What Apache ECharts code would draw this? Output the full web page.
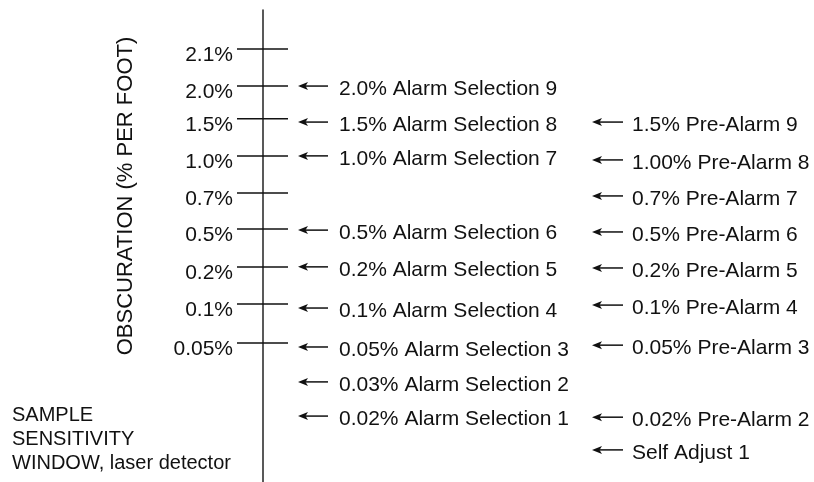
<!DOCTYPE html>
<html>
<head>
<meta charset="utf-8">
<script src="https://cdn.jsdelivr.net/npm/echarts@6/dist/echarts.min.js"></script>
<style>html,body{margin:0;padding:0;background:#fff}#c{width:814px;height:482px}</style>
</head>
<body>
<div id="c"></div>
<script>
// ---- data (row positions along the obscuration scale) ----
const scaleLabels = ['2.1%', '2.0%', '1.5%', '1.0%', '0.7%', '0.5%', '0.2%', '0.1%', '0.05%'];
const scaleRows   = [0, 1.01, 1.90, 2.91, 3.92, 4.90, 5.93, 6.94, 8.00];

const alarmLabels = ['2.0% Alarm Selection 9', '1.5% Alarm Selection 8', '1.0% Alarm Selection 7',
  '0.5% Alarm Selection 6', '0.2% Alarm Selection 5', '0.1% Alarm Selection 4',
  '0.05% Alarm Selection 3', '0.03% Alarm Selection 2', '0.02% Alarm Selection 1'];
const alarmRows = [1.09, 2.07, 2.99, 5.01, 6.01, 7.13, 8.19, 9.14, 10.07];

const preAlarmLabels = ['1.5% Pre-Alarm 9', '1.00% Pre-Alarm 8', '0.7% Pre-Alarm 7', '0.5% Pre-Alarm 6',
  '0.2% Pre-Alarm 5', '0.1% Pre-Alarm 4', '0.05% Pre-Alarm 3', '0.02% Pre-Alarm 2', 'Self Adjust 1'];
const preAlarmRows = [2.07, 3.10, 4.08, 5.06, 6.04, 7.05, 8.14, 10.10, 10.99];

const axisTitle = 'OBSCURATION (% PER FOOT)';
const captionLines = ['SAMPLE', 'SENSITIVITY', 'WINDOW, laser detector'];

// ---- styles / layout ----
const FONT = '"Liberation Sans", Arial, Helvetica, sans-serif';
const FS = 21;
const INK = '#111';

const chart = echarts.init(document.getElementById('c'), null, {renderer: 'canvas'});

function tickRender(params, api) {
  const a = api.coord([-26, api.value(1)]);
  const b = api.coord([25, api.value(1)]);
  const t = api.coord([-30, api.value(1)]);
  return {
    type: 'group',
    children: [
      {type: 'line', shape: {x1: a[0], y1: a[1], x2: b[0], y2: b[1]}, style: {stroke: INK, lineWidth: 1.5}},
      {type: 'text', x: t[0], y: t[1] + 6, style: {text: scaleLabels[params.dataIndex], fill: INK,
        fontSize: FS, fontFamily: FONT, align: 'right', verticalAlign: 'middle'}}
    ]
  };
}

function arrowRender(labels, headX, tailX, textX) {
  return function (params, api) {
    const r = api.value(1);
    const h = api.coord([headX, r]);
    const t = api.coord([tailX, r]);
    const x = api.coord([textX, r]);
    const ay = h[1] - 3;
    return {
      type: 'group',
      children: [
        {type: 'line', shape: {x1: h[0] + 6, y1: ay, x2: t[0], y2: ay}, style: {stroke: INK, lineWidth: 1.5}},
        {type: 'polygon', shape: {points: [[h[0], ay], [h[0] + 10, ay - 4], [h[0] + 7.5, ay], [h[0] + 10, ay + 4]]},
          style: {fill: INK}},
        {type: 'text', x: x[0], y: x[1], style: {text: labels[params.dataIndex], fill: INK,
          fontSize: FS, fontFamily: FONT, align: 'left', verticalAlign: 'middle'}}
      ]
    };
  };
}

const option = {
  animation: false,
  backgroundColor: '#fff',
  title: {
    text: captionLines.join('\n'),
    left: 12, top: 404, padding: 0,
    textStyle: {fontSize: 20, fontWeight: 'normal', fontFamily: FONT, color: INK, lineHeight: 23.7}
  },
  grid: {left: 263, right: 0, top: 10, bottom: 0, containLabel: false},
  xAxis: {type: 'value', min: 0, max: 551, show: false},
  yAxis: {
    type: 'value', inverse: true, min: -1.061, max: 11.782,
    name: axisTitle, nameLocation: 'middle', nameRotate: 90, nameGap: 126,
    nameTextStyle: {fontSize: 22, fontFamily: FONT, color: INK, padding: [0, 0, 0, 100]},
    axisLine: {show: true, onZero: false, lineStyle: {color: '#222', width: 1.5}},
    axisTick: {show: false}, axisLabel: {show: false}, splitLine: {show: false}
  },
  series: [
    {type: 'custom', renderItem: tickRender, clip: false, silent: true,
      encode: {x: 0, y: 1}, data: scaleRows.map(r => [0, r])},
    {type: 'custom', renderItem: arrowRender(alarmLabels, 35, 65, 76), clip: false, silent: true,
      encode: {x: 0, y: 1}, data: alarmRows.map(r => [0, r])},
    {type: 'custom', renderItem: arrowRender(preAlarmLabels, 329, 360, 369), clip: false, silent: true,
      encode: {x: 0, y: 1}, data: preAlarmRows.map(r => [0, r])}
  ]
};
chart.setOption(option);
</script>
</body>
</html>
